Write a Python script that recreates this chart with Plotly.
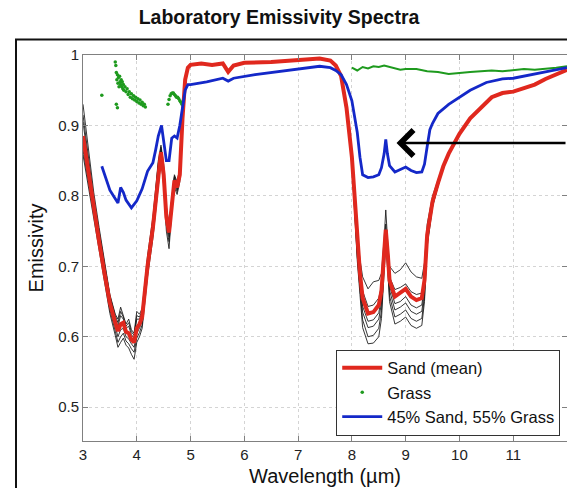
import plotly.graph_objects as go

# ---------------- data ----------------
wl_sand = [3.0, 3.1, 3.2, 3.3, 3.4, 3.5, 3.6, 3.65, 3.7, 3.75, 3.8, 3.85, 3.9, 3.95, 4.0, 4.05, 4.1,
           4.2, 4.3, 4.4, 4.45, 4.5, 4.55, 4.6, 4.65, 4.7, 4.75, 4.8, 4.85, 4.9, 4.95, 5.0, 5.2, 5.4,
           5.6, 5.7, 5.8, 6.0, 6.5, 7.0, 7.4, 7.6, 7.7, 7.8, 7.9, 8.0, 8.1, 8.15, 8.2, 8.3, 8.4, 8.5,
           8.55, 8.6, 8.63, 8.67, 8.7, 8.8, 8.9, 9.0, 9.1, 9.2, 9.3, 9.35, 9.4, 9.5, 9.6, 9.7, 9.8,
           10.0, 10.2, 10.4, 10.6, 10.8, 11.0, 11.2, 11.4, 11.6, 11.8, 12.0]
sand_mean = [0.885, 0.835, 0.78, 0.735, 0.69, 0.648, 0.62, 0.608, 0.618, 0.62, 0.607, 0.605, 0.596,
             0.592, 0.612, 0.618, 0.628, 0.70, 0.755, 0.835, 0.862, 0.83, 0.77, 0.748, 0.79, 0.822,
             0.812, 0.83, 0.91, 0.965, 0.982, 0.986, 0.988, 0.986, 0.988, 0.976, 0.985, 0.989, 0.99,
             0.993, 0.995, 0.992, 0.985, 0.97, 0.925, 0.855, 0.73, 0.69, 0.655, 0.633, 0.635, 0.645,
             0.665, 0.72, 0.752, 0.715, 0.68, 0.657, 0.662, 0.668, 0.657, 0.652, 0.655, 0.68, 0.745,
             0.792, 0.818, 0.842, 0.86, 0.888, 0.91, 0.926, 0.94, 0.946, 0.948, 0.953, 0.958, 0.966,
             0.972, 0.979]

# individual sand samples, short-wave region
wl_samp_a = [3.0, 3.1, 3.2, 3.3, 3.4, 3.5, 3.6, 3.65, 3.7, 3.75, 3.8, 3.85, 3.9, 3.95, 4.0, 4.05,
             4.1, 4.2, 4.3, 4.4, 4.45, 4.5, 4.55, 4.6, 4.65, 4.7, 4.75, 4.8, 4.85, 4.9, 4.95, 5.0]
samp1_a = [0.93, 0.87, 0.805, 0.755, 0.705, 0.66, 0.632, 0.625, 0.642, 0.63, 0.618, 0.625, 0.61,
           0.605, 0.636, 0.632, 0.64, 0.715, 0.77, 0.85, 0.872, 0.845, 0.785, 0.76, 0.80, 0.83,
           0.82, 0.84, 0.915, 0.967, 0.983, 0.987]
samp2_a = [0.905, 0.85, 0.79, 0.745, 0.698, 0.654, 0.626, 0.615, 0.63, 0.625, 0.612, 0.615, 0.603,
           0.598, 0.625, 0.625, 0.634, 0.707, 0.762, 0.842, 0.866, 0.837, 0.777, 0.754, 0.795,
           0.826, 0.816, 0.834, 0.912, 0.966, 0.982, 0.986]
samp3_a = [0.875, 0.828, 0.776, 0.73, 0.686, 0.643, 0.614, 0.60, 0.61, 0.612, 0.60, 0.597, 0.59,
           0.585, 0.605, 0.612, 0.622, 0.695, 0.75, 0.83, 0.858, 0.825, 0.765, 0.742, 0.786,
           0.819, 0.809, 0.827, 0.908, 0.964, 0.981, 0.986]
samp4_a = [0.865, 0.82, 0.77, 0.725, 0.68, 0.638, 0.608, 0.592, 0.60, 0.605, 0.594, 0.59, 0.583,
           0.578, 0.598, 0.606, 0.617, 0.69, 0.745, 0.825, 0.855, 0.82, 0.758, 0.735, 0.782,
           0.816, 0.806, 0.824, 0.906, 0.963, 0.981, 0.985]
samp5_a = [0.858, 0.813, 0.764, 0.72, 0.676, 0.633, 0.602, 0.585, 0.592, 0.598, 0.588, 0.584,
           0.575, 0.568, 0.592, 0.60, 0.612, 0.685, 0.74, 0.82, 0.85, 0.815, 0.75, 0.725, 0.777,
           0.812, 0.802, 0.82, 0.903, 0.962, 0.98, 0.985]
samp6_a = [0.915, 0.858, 0.797, 0.75, 0.702, 0.658, 0.63, 0.62, 0.636, 0.628, 0.615, 0.62, 0.607,
           0.602, 0.63, 0.628, 0.637, 0.71, 0.766, 0.846, 0.869, 0.84, 0.78, 0.757, 0.797, 0.828,
           0.818, 0.837, 0.913, 0.966, 0.982, 0.986]

# individual sand samples, reststrahlen region
wl_samp_b = [7.6, 7.7, 7.8, 7.9, 8.0, 8.1, 8.15, 8.2, 8.3, 8.4, 8.5, 8.55, 8.6, 8.63, 8.67, 8.7,
             8.8, 8.9, 9.0, 9.1, 9.2, 9.3, 9.35, 9.4, 9.5, 9.6, 9.7, 9.8, 10.0]
samp1_b = [0.992, 0.985, 0.971, 0.928, 0.86, 0.745, 0.71, 0.685, 0.668, 0.678, 0.68, 0.69, 0.74,
           0.78, 0.73, 0.70, 0.69, 0.695, 0.705, 0.692, 0.685, 0.683, 0.705, 0.76, 0.80, 0.822,
           0.845, 0.862, 0.889]
samp2_b = [0.992, 0.985, 0.97, 0.926, 0.857, 0.735, 0.697, 0.665, 0.643, 0.645, 0.655, 0.673,
           0.728, 0.76, 0.72, 0.685, 0.667, 0.67, 0.675, 0.664, 0.66, 0.662, 0.687, 0.75, 0.795,
           0.82, 0.843, 0.861, 0.888]
samp3_b = [0.992, 0.985, 0.97, 0.924, 0.853, 0.725, 0.683, 0.643, 0.622, 0.624, 0.634, 0.655,
           0.714, 0.748, 0.708, 0.672, 0.647, 0.65, 0.657, 0.645, 0.641, 0.645, 0.672, 0.74, 0.79,
           0.817, 0.841, 0.86, 0.888]
samp4_b = [0.992, 0.985, 0.969, 0.923, 0.851, 0.72, 0.676, 0.635, 0.613, 0.615, 0.625, 0.648,
           0.708, 0.744, 0.703, 0.666, 0.638, 0.642, 0.648, 0.636, 0.632, 0.636, 0.665, 0.736,
           0.788, 0.816, 0.84, 0.859, 0.887]
samp5_b = [0.992, 0.984, 0.969, 0.922, 0.849, 0.714, 0.668, 0.624, 0.60, 0.602, 0.612, 0.637,
           0.70, 0.738, 0.697, 0.658, 0.628, 0.632, 0.638, 0.626, 0.622, 0.626, 0.657, 0.732,
           0.786, 0.815, 0.84, 0.859, 0.887]
samp6_b = [0.992, 0.984, 0.968, 0.92, 0.846, 0.708, 0.66, 0.613, 0.59, 0.591, 0.60, 0.626, 0.692,
           0.732, 0.69, 0.65, 0.618, 0.622, 0.628, 0.616, 0.612, 0.616, 0.65, 0.728, 0.784, 0.814,
           0.839, 0.858, 0.887]

# grass: scattered short-wave points and dense long-wave trace
wl_grass_pts = [3.35, 3.60, 3.61, 3.62, 3.62, 3.63, 3.64, 3.64, 3.65, 3.66, 3.67, 3.68, 3.69, 3.70,
                3.71, 3.72, 3.73, 3.74, 3.75, 3.76, 3.78, 3.80, 3.82, 3.84, 3.86, 3.88, 3.90, 3.92,
                3.94, 3.96, 3.98, 4.00, 4.02, 4.04, 4.06, 4.08, 4.10, 4.12, 4.14, 4.16,
                4.58, 4.60, 4.62, 4.64, 4.66, 4.68, 4.70, 4.72, 4.74, 4.76, 4.78, 4.80, 4.82, 4.84]
grass_pts = [0.943, 0.99, 0.985, 0.975, 0.93, 0.965, 0.972, 0.925, 0.96, 0.968, 0.955, 0.97,
             0.962, 0.958, 0.965, 0.955, 0.962, 0.952, 0.958, 0.95, 0.955, 0.948, 0.952, 0.944,
             0.948, 0.94, 0.945, 0.938, 0.942, 0.936, 0.94, 0.934, 0.938, 0.932, 0.936, 0.93,
             0.933, 0.928, 0.93, 0.926,
             0.93, 0.937, 0.942, 0.945, 0.946, 0.946, 0.944, 0.942, 0.94, 0.94, 0.938, 0.935,
             0.933, 0.93]
wl_grass_lw = [8.0, 8.1, 8.2, 8.3, 8.4, 8.5, 8.6, 8.7, 8.8, 8.9, 9.0, 9.2, 9.4, 9.6, 9.8, 10.0,
               10.2, 10.4, 10.6, 10.8, 11.0, 11.2, 11.4, 11.6, 11.8, 12.0]
grass_lw = [0.982, 0.978, 0.983, 0.981, 0.984, 0.983, 0.985, 0.983, 0.981, 0.979, 0.98, 0.98,
            0.977, 0.976, 0.973, 0.975, 0.976, 0.977, 0.978, 0.977, 0.979, 0.98, 0.979, 0.98,
            0.982, 0.984]

# 45% sand / 55% grass mixture
wl_mix = [3.35, 3.4, 3.5, 3.6, 3.65, 3.7, 3.75, 3.8, 3.9, 4.0, 4.1, 4.2, 4.25, 4.3, 4.35, 4.4,
          4.46, 4.5, 4.55, 4.6, 4.65, 4.7, 4.75, 4.8, 4.85, 4.9, 4.95, 5.0, 5.3, 5.6, 5.7, 5.8,
          6.2, 6.6, 7.0, 7.4, 7.6, 7.7, 7.8, 7.9, 8.0, 8.1, 8.15, 8.2, 8.3, 8.4, 8.5, 8.55, 8.6,
          8.63, 8.66, 8.7, 8.8, 8.9, 9.0, 9.1, 9.2, 9.3, 9.35, 9.4, 9.45, 9.5, 9.6, 9.8, 10.0,
          10.2, 10.5, 10.8, 11.0, 11.3, 11.6, 12.0]
mix = [0.842, 0.83, 0.808, 0.796, 0.79, 0.812, 0.805, 0.794, 0.783, 0.793, 0.81, 0.835, 0.842,
       0.847, 0.865, 0.885, 0.90, 0.88, 0.85, 0.85, 0.882, 0.885, 0.882, 0.90, 0.925, 0.95, 0.958,
       0.958, 0.962, 0.967, 0.963, 0.967, 0.972, 0.976, 0.98, 0.984, 0.982, 0.978, 0.972, 0.958,
       0.935, 0.89, 0.855, 0.83, 0.826, 0.827, 0.83, 0.84, 0.86, 0.88, 0.86, 0.843, 0.834, 0.838,
       0.841, 0.836, 0.833, 0.834, 0.845, 0.87, 0.894, 0.903, 0.917, 0.93, 0.94, 0.95, 0.961,
       0.966, 0.967, 0.972, 0.976, 0.982]

x_ticks = [3, 4, 5, 6, 7, 8, 9, 10, 11, 12]
y_ticks = [0.5, 0.6, 0.7, 0.8, 0.9, 1.0]
y_tick_text = ["0.5", "0.6", "0.7", "0.8", "0.9", "1"]

# arrow annotation (tip position)
arrow_x, arrow_y = 8.83, 0.875

# ---------------- figure ----------------
RED = "#e0281e"
BLUE = "#1428c8"
GREEN = "#1e9a1e"
FONT = "Liberation Sans, Arial, sans-serif"

fig = go.Figure()

for s in [samp1_a, samp2_a, samp3_a, samp4_a, samp5_a, samp6_a]:
    fig.add_trace(go.Scatter(x=wl_samp_a, y=s, mode="lines", showlegend=False,
                             line=dict(color="rgba(20,20,20,0.85)", width=1), hoverinfo="skip"))
for s in [samp1_b, samp2_b, samp3_b, samp4_b, samp5_b, samp6_b]:
    fig.add_trace(go.Scatter(x=wl_samp_b, y=s, mode="lines", showlegend=False,
                             line=dict(color="rgba(20,20,20,0.85)", width=1), hoverinfo="skip"))

fig.add_trace(go.Scatter(x=wl_sand, y=sand_mean, mode="lines", name="Sand (mean)",
                         line=dict(color=RED, width=4), legendrank=1))
fig.add_trace(go.Scatter(x=wl_grass_pts, y=grass_pts, mode="markers", name="Grass",
                         marker=dict(color=GREEN, size=3.5), legendgroup="grass", legendrank=2))
fig.add_trace(go.Scatter(x=wl_grass_lw, y=grass_lw, mode="lines", showlegend=False,
                         legendgroup="grass", line=dict(color=GREEN, width=2)))
fig.add_trace(go.Scatter(x=wl_mix, y=mix, mode="lines", name="45% Sand, 55% Grass",
                         line=dict(color=BLUE, width=2.8), legendrank=3))

axis_common = dict(
    showline=True, linecolor="#808080", linewidth=1, mirror="ticks",
    ticks="inside", ticklen=5, tickcolor="#808080",
    showgrid=True, gridcolor="#d4d4d4", griddash="dot", gridwidth=1,
    zeroline=False, tickfont=dict(family=FONT, size=15, color="#222"),
)

fig.update_layout(
    width=567, height=488,
    margin=dict(l=83, r=0, t=55, b=47),
    paper_bgcolor="white", plot_bgcolor="white",
    font=dict(family=FONT, color="#111"),
    title=dict(text="<b>Laboratory Emissivity Spectra</b>", x=279 / 567,
               xanchor="center", y=1 - 17 / 488, yanchor="middle", yref="container",
               font=dict(family=FONT, size=19.5, color="#111")),
    xaxis=dict(range=[3, 12], tickvals=x_ticks,
               title=dict(text="Wavelength (µm)", standoff=6,
                          font=dict(family=FONT, size=20, color="#111")),
               **axis_common),
    yaxis=dict(range=[0.452, 1.0], tickvals=y_ticks, ticktext=y_tick_text,
               title=dict(text="Emissivity", standoff=9,
                          font=dict(family=FONT, size=20, color="#111")),
               **axis_common),
    legend=dict(x=0.986, y=0.014, xanchor="right", yanchor="bottom",
                bgcolor="white", bordercolor="#333", borderwidth=1,
                font=dict(family=FONT, size=16.5, color="#111"),
                tracegroupgap=0, itemwidth=40),
    showlegend=True,
)

# outer frame of the figure
fig.add_shape(type="rect", xref="paper", yref="paper",
              x0=(16 - 83) / 484, x1=1.05, y0=-0.3, y1=(441 - 39.5) / 386,
              line=dict(color="#111", width=2), layer="above")

fig.add_annotation(x=arrow_x, y=arrow_y, xref="x", yref="y", ax=175, ay=0,
                   showarrow=True, arrowhead=4, arrowsize=2, arrowwidth=2.5,
                   arrowcolor="black", text="")

fig.write_html("out.html", config={"displayModeBar": False},
               post_script="document.body.style.margin='0';")
